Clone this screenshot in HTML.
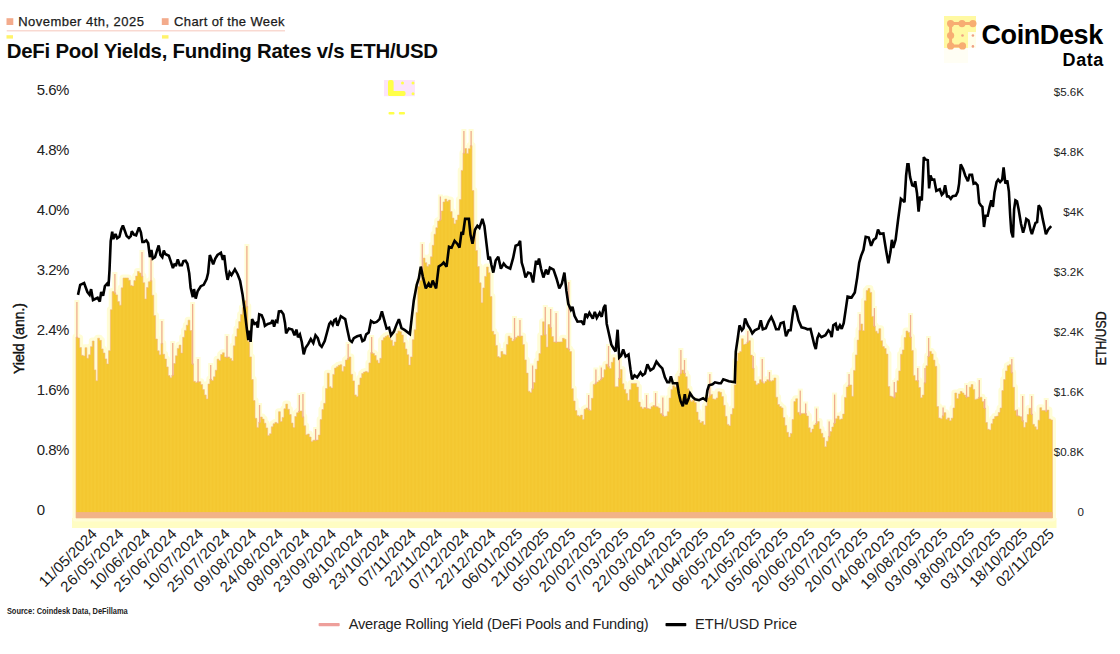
<!DOCTYPE html>
<html><head><meta charset="utf-8"><title>DeFi Pool Yields, Funding Rates v/s ETH/USD</title>
<style>
html,body{margin:0;padding:0;background:#fff;}
body{width:1120px;height:654px;overflow:hidden;font-family:"Liberation Sans",sans-serif;}
svg{display:block;font-family:"Liberation Sans",sans-serif;}
</style></head><body>
<svg width="1120" height="654" viewBox="0 0 1120 654">
<rect width="1120" height="654" fill="#ffffff"/>

<rect x="6.5" y="18.2" width="6.8" height="6.8" fill="#F3AB8C"/>
<rect x="6.5" y="35.2" width="6.5" height="3.4" fill="#FFF36B"/>
<rect x="162" y="35.2" width="6.5" height="3.4" fill="#FFF36B"/>
<text x="18.2" y="26.4" font-size="13" font-weight="normal" text-anchor="start" fill="#1a1a1a" textLength="125.7" lengthAdjust="spacing" stroke="#1a1a1a" stroke-width="0.25">November 4th, 2025</text>
<rect x="6.7" y="30.4" width="278.3" height="0.9" fill="#F6C0B4"/>
<rect x="161.8" y="18.2" width="6.8" height="6.8" fill="#F3AB8C"/>
<text x="174.1" y="26.4" font-size="13" font-weight="normal" text-anchor="start" fill="#1a1a1a" textLength="110.4" lengthAdjust="spacing" stroke="#1a1a1a" stroke-width="0.25">Chart of the Week</text>
<text x="6.7" y="58.2" font-size="20.4" font-weight="bold" text-anchor="start" fill="#0a0a0a" textLength="431.3" lengthAdjust="spacing">DeFi Pool Yields, Funding Rates v/s ETH/USD</text>
<g>
<rect x="944" y="16" width="32" height="16" fill="#FFF9A2"/>
<rect x="944" y="32" width="24" height="16" fill="#FFF9A2"/>
<rect x="968" y="32" width="8" height="16" fill="#FFFEEA"/>
<rect x="944" y="48" width="24" height="15" fill="#FFFEF4"/>
<path d="M972.9,23.6 L950.6,23.6 L950.6,45.9 L962.5,45.9" fill="none" stroke="#F7AD72" stroke-width="3" stroke-linecap="round" stroke-linejoin="round"/>
<circle cx="950.6" cy="23.6" r="3.6" fill="#F7AD72"/>
<circle cx="962" cy="23.6" r="3.6" fill="#F7AD72"/>
<circle cx="972.9" cy="23.6" r="3.6" fill="#F7AD72"/>
<circle cx="950.6" cy="35.5" r="3.6" fill="#F7AD72"/>
<circle cx="950.6" cy="45.9" r="3.6" fill="#F7AD72"/>
<circle cx="962.5" cy="45.9" r="3.6" fill="#F7AD72"/>
<circle cx="962.5" cy="35.5" r="1.3" fill="#F0A184"/>
<circle cx="972.9" cy="35.5" r="1.3" fill="#F0A184"/>
<circle cx="972.9" cy="46.4" r="1.3" fill="#F0A184"/>
</g>
<text x="981.4" y="44.4" font-size="27" font-weight="bold" text-anchor="start" fill="#000" textLength="121.9" lengthAdjust="spacing">CoinDesk</text>
<text x="1062.6" y="66.1" font-size="18" font-weight="bold" text-anchor="start" fill="#000" textLength="40.7" lengthAdjust="spacing">Data</text>
<rect x="384" y="80" width="31" height="16.2" fill="#FBE4FB"/>
<rect x="388" y="80" width="5.6" height="16" rx="2" fill="#FFFF4A"/>
<rect x="388" y="91" width="17.6" height="5" rx="2" fill="#FFFF4A"/>
<circle cx="402.5" cy="83" r="1.5" fill="#FFFF4A"/>
<circle cx="413" cy="83" r="1.5" fill="#FFFF4A"/>
<circle cx="413" cy="93.8" r="1.5" fill="#FFFF4A"/>
<rect x="388.5" y="112" width="6" height="2.4" rx="1" fill="#FFFF4A"/>
<rect x="398.8" y="112" width="6.2" height="2.4" rx="1" fill="#FFFF4A"/>
<rect x="72.0" y="518.0" width="984.5" height="10" fill="#FFFDC3"/>
<defs><path id="bars" d="M76.00,518.0L76.00,337.0L77.81,337.0L77.81,338.1L79.62,338.1L79.62,347.6L81.42,347.6L81.42,355.3L83.23,355.3L83.23,356.0L85.04,356.0L85.04,347.7L86.85,347.7L86.85,358.3L88.66,358.3L88.66,354.8L90.47,354.8L90.47,346.7L92.28,346.7L92.28,341.0L94.08,341.0L94.08,369.9L95.89,369.9L95.89,380.8L97.70,380.8L97.70,338.2L99.51,338.2L99.51,340.3L101.32,340.3L101.32,348.9L103.12,348.9L103.12,353.0L104.93,353.0L104.93,358.9L106.74,358.9L106.74,363.9L108.55,363.9L108.55,350.7L110.36,350.7L110.36,309.7L112.17,309.7L112.17,291.6L113.97,291.6L113.97,292.7L115.78,292.7L115.78,294.9L117.59,294.9L117.59,301.6L119.40,301.6L119.40,305.2L121.21,305.2L121.21,287.8L123.02,287.8L123.02,278.0L124.83,278.0L124.83,278.0L126.63,278.0L126.63,278.0L128.44,278.0L128.44,280.2L130.25,280.2L130.25,285.4L132.06,285.4L132.06,286.1L133.87,286.1L133.87,280.6L135.68,280.6L135.68,276.1L137.48,276.1L137.48,271.5L139.29,271.5L139.29,273.0L141.10,273.0L141.10,276.0L142.91,276.0L142.91,282.7L144.72,282.7L144.72,299.0L146.53,299.0L146.53,287.5L148.33,287.5L148.33,281.8L150.14,281.8L150.14,280.4L151.95,280.4L151.95,295.2L153.76,295.2L153.76,315.6L155.57,315.6L155.57,339.0L157.38,339.0L157.38,350.8L159.18,350.8L159.18,354.8L160.99,354.8L160.99,343.3L162.80,343.3L162.80,354.3L164.61,354.3L164.61,359.0L166.42,359.0L166.42,366.9L168.23,366.9L168.22,375.6L170.03,375.6L170.03,377.7L171.84,377.7L171.84,375.1L173.65,375.1L173.65,363.5L175.46,363.5L175.46,355.8L177.27,355.8L177.27,348.4L179.07,348.4L179.07,345.1L180.88,345.1L180.88,353.1L182.69,353.1L182.69,337.2L184.50,337.2L184.50,330.4L186.31,330.4L186.31,325.2L188.12,325.2L188.12,320.2L189.93,320.2L189.93,330.6L191.73,330.6L191.73,363.8L193.54,363.8L193.54,381.3L195.35,381.3L195.35,382.4L197.16,382.4L197.16,381.6L198.97,381.6L198.97,381.7L200.78,381.7L200.78,384.5L202.58,384.5L202.58,389.6L204.39,389.6L204.39,394.9L206.20,394.9L206.20,398.9L208.01,398.9L208.01,384.0L209.82,384.0L209.82,379.1L211.62,379.1L211.62,380.6L213.43,380.6L213.43,376.8L215.24,376.8L215.24,370.2L217.05,370.2L217.05,359.2L218.86,359.2L218.86,360.5L220.67,360.5L220.67,354.5L222.47,354.5L222.47,352.8L224.28,352.8L224.28,357.0L226.09,357.0L226.09,357.0L227.90,357.0L227.90,357.0L229.71,357.0L229.71,358.4L231.52,358.4L231.52,360.8L233.33,360.8L233.32,345.8L235.13,345.8L235.13,336.6L236.94,336.6L236.94,328.7L238.75,328.7L238.75,321.6L240.56,321.6L240.56,314.5L242.37,314.5L242.37,307.5L244.18,307.5L244.18,300.8L245.98,300.8L245.98,306.3L247.79,306.3L247.79,341.4L249.60,341.4L249.60,356.9L251.41,356.9L251.41,379.5L253.22,379.5L253.22,400.6L255.03,400.6L255.03,418.3L256.83,418.3L256.83,427.4L258.64,427.4L258.64,422.2L260.45,422.2L260.45,417.0L262.26,417.0L262.26,419.1L264.07,419.1L264.07,423.2L265.88,423.2L265.88,427.9L267.68,427.9L267.68,435.4L269.49,435.4L269.49,433.7L271.30,433.7L271.30,426.8L273.11,426.8L273.11,423.8L274.92,423.8L274.92,422.4L276.72,422.4L276.73,423.3L278.53,423.3L278.53,411.7L280.34,411.7L280.34,421.5L282.15,421.5L282.15,417.4L283.96,417.4L283.96,408.8L285.77,408.8L285.77,404.1L287.57,404.1L287.57,409.2L289.38,409.2L289.38,414.5L291.19,414.5L291.19,423.0L293.00,423.0L293.00,427.5L294.81,427.5L294.81,416.5L296.62,416.5L296.62,412.8L298.43,412.8L298.43,411.0L300.23,411.0L300.23,411.0L302.04,411.0L302.04,416.7L303.85,416.7L303.85,425.8L305.66,425.8L305.66,434.8L307.47,434.8L307.47,434.0L309.28,434.0L309.27,437.0L311.08,437.0L311.08,441.6L312.89,441.6L312.89,440.2L314.70,440.2L314.70,440.0L316.51,440.0L316.51,440.0L318.32,440.0L318.32,435.1L320.12,435.1L320.12,419.6L321.93,419.6L321.93,409.6L323.74,409.6L323.74,403.3L325.55,403.3L325.55,388.5L327.36,388.5L327.36,373.2L329.17,373.2L329.17,386.7L330.97,386.7L330.98,387.9L332.78,387.9L332.78,374.4L334.59,374.4L334.59,368.1L336.40,368.1L336.40,366.8L338.21,366.8L338.21,365.3L340.02,365.3L340.02,364.8L341.82,364.8L341.82,371.2L343.63,371.2L343.63,366.5L345.44,366.5L345.44,360.1L347.25,360.1L347.25,358.6L349.06,358.6L349.06,357.0L350.87,357.0L350.87,374.3L352.68,374.3L352.68,380.9L354.48,380.9L354.48,394.9L356.29,394.9L356.29,396.4L358.10,396.4L358.10,385.0L359.91,385.0L359.91,377.9L361.72,377.9L361.72,373.4L363.53,373.4L363.52,372.1L365.33,372.1L365.33,371.4L367.14,371.4L367.14,372.2L368.95,372.2L368.95,362.9L370.76,362.9L370.76,352.6L372.57,352.6L372.57,353.4L374.38,353.4L374.38,355.5L376.18,355.5L376.18,360.2L377.99,360.2L377.99,363.1L379.80,363.1L379.80,358.3L381.61,358.3L381.61,340.3L383.42,340.3L383.42,337.7L385.23,337.7L385.23,336.3L387.03,336.3L387.03,335.3L388.84,335.3L388.84,337.2L390.65,337.2L390.65,340.3L392.46,340.3L392.46,345.8L394.27,345.8L394.27,341.9L396.07,341.9L396.07,333.6L397.88,333.6L397.88,330.9L399.69,330.9L399.69,331.7L401.50,331.7L401.50,334.9L403.31,334.9L403.31,342.6L405.12,342.6L405.12,349.0L406.93,349.0L406.93,354.7L408.73,354.7L408.73,365.1L410.54,365.1L410.54,356.9L412.35,356.9L412.35,339.7L414.16,339.7L414.16,329.8L415.97,329.8L415.97,312.4L417.78,312.4L417.77,286.4L419.58,286.4L419.58,280.4L421.39,280.4L421.39,271.2L423.20,271.2L423.20,258.1L425.01,258.1L425.01,262.7L426.82,262.7L426.82,266.3L428.62,266.3L428.62,264.5L430.43,264.5L430.43,256.8L432.24,256.8L432.24,245.3L434.05,245.3L434.05,234.2L435.86,234.2L435.86,227.7L437.67,227.7L437.67,221.1L439.48,221.1L439.48,219.7L441.28,219.7L441.28,211.0L443.09,211.0L443.09,202.0L444.90,202.0L444.90,199.1L446.71,199.1L446.71,201.3L448.52,201.3L448.52,200.1L450.32,200.1L450.32,211.6L452.13,211.6L452.13,218.1L453.94,218.1L453.94,223.7L455.75,223.7L455.75,220.1L457.56,220.1L457.56,215.0L459.37,215.0L459.37,199.6L461.18,199.6L461.18,170.4L462.98,170.4L462.98,152.9L464.79,152.9L464.79,148.5L466.60,148.5L466.60,153.4L468.41,153.4L468.41,148.7L470.22,148.7L470.22,145.6L472.03,145.6L472.02,190.5L473.83,190.5L473.83,231.8L475.64,231.8L475.64,250.5L477.45,250.5L477.45,266.5L479.26,266.5L479.26,282.8L481.07,282.8L481.07,302.7L482.88,302.7L482.88,287.9L484.68,287.9L484.68,276.4L486.49,276.4L486.49,267.0L488.30,267.0L488.30,272.7L490.11,272.7L490.11,296.5L491.92,296.5L491.92,331.3L493.73,331.3L493.73,334.6L495.53,334.6L495.53,345.4L497.34,345.4L497.34,356.6L499.15,356.6L499.15,357.5L500.96,357.5L500.96,351.5L502.77,351.5L502.77,354.2L504.57,354.2L504.57,354.8L506.38,354.8L506.38,344.6L508.19,344.6L508.19,336.2L510.00,336.2L510.00,338.0L511.81,338.0L511.81,341.1L513.62,341.1L513.62,339.3L515.42,339.3L515.42,337.5L517.23,337.5L517.23,336.0L519.04,336.0L519.04,336.0L520.85,336.0L520.85,336.0L522.66,336.0L522.66,344.6L524.47,344.6L524.47,359.9L526.27,359.9L526.27,373.1L528.08,373.1L528.08,391.2L529.89,391.2L529.89,392.6L531.70,392.6L531.70,388.6L533.51,388.6L533.51,382.5L535.32,382.5L535.32,369.3L537.12,369.3L537.12,361.1L538.93,361.1L538.93,353.6L540.74,353.6L540.74,335.5L542.55,335.5L542.55,321.8L544.36,321.8L544.36,334.4L546.17,334.4L546.17,347.1L547.98,347.1L547.98,324.5L549.78,324.5L549.78,327.4L551.59,327.4L551.59,336.5L553.40,336.5L553.40,342.0L555.21,342.0L555.21,342.0L557.02,342.0L557.02,342.0L558.82,342.0L558.83,342.0L560.63,342.0L560.63,341.9L562.44,341.9L562.44,338.3L564.25,338.3L564.25,339.3L566.06,339.3L566.06,348.0L567.87,348.0L567.87,349.0L569.67,349.0L569.67,351.6L571.48,351.6L571.48,388.7L573.29,388.7L573.29,401.0L575.10,401.0L575.10,410.6L576.91,410.6L576.91,415.4L578.72,415.4L578.72,416.2L580.52,416.2L580.52,415.1L582.33,415.1L582.33,419.6L584.14,419.6L584.14,409.3L585.95,409.3L585.95,408.0L587.76,408.0L587.76,409.2L589.57,409.2L589.57,410.4L591.38,410.4L591.38,398.3L593.18,398.3L593.18,384.4L594.99,384.4L594.99,383.2L596.80,383.2L596.80,381.9L598.61,381.9L598.61,380.5L600.42,380.5L600.42,379.1L602.22,379.1L602.23,377.6L604.03,377.6L604.03,369.7L605.84,369.7L605.84,364.2L607.65,364.2L607.65,366.4L609.46,366.4L609.46,368.5L611.27,368.5L611.27,362.3L613.07,362.3L613.08,357.7L614.88,357.7L614.88,386.8L616.69,386.8L616.69,386.7L618.50,386.7L618.50,378.1L620.31,378.1L620.31,369.6L622.12,369.6L622.12,383.7L623.92,383.7L623.92,389.4L625.73,389.4L625.73,393.4L627.54,393.4L627.54,400.3L629.35,400.3L629.35,389.7L631.16,389.7L631.16,383.4L632.97,383.4L632.97,383.4L634.77,383.4L634.77,383.4L636.58,383.4L636.58,387.1L638.39,387.1L638.39,402.1L640.20,402.1L640.20,406.9L642.01,406.9L642.01,408.7L643.82,408.7L643.82,407.5L645.62,407.5L645.62,407.9L647.43,407.9L647.43,408.6L649.24,408.6L649.24,409.1L651.05,409.1L651.05,406.7L652.86,406.7L652.86,405.6L654.67,405.6L654.67,406.2L656.47,406.2L656.48,406.8L658.28,406.8L658.28,408.1L660.09,408.1L660.09,413.4L661.90,413.4L661.90,415.0L663.71,415.0L663.71,416.5L665.52,416.5L665.52,416.0L667.32,416.0L667.33,411.7L669.13,411.7L669.13,398.1L670.94,398.1L670.94,389.4L672.75,389.4L672.75,385.7L674.56,385.7L674.56,387.2L676.37,387.2L676.37,381.9L678.17,381.9L678.17,376.3L679.98,376.3L679.98,373.2L681.79,373.2L681.79,370.1L683.60,370.1L683.60,373.0L685.41,373.0L685.41,376.7L687.22,376.7L687.22,388.8L689.02,388.8L689.02,399.9L690.83,399.9L690.83,401.4L692.64,401.4L692.64,400.3L694.45,400.3L694.45,402.5L696.26,402.5L696.26,412.1L698.07,412.1L698.07,419.9L699.88,419.9L699.88,422.7L701.68,422.7L701.68,421.5L703.49,421.5L703.49,424.8L705.30,424.8L705.30,405.9L707.11,405.9L707.11,397.8L708.92,397.8L708.92,395.5L710.72,395.5L710.73,394.4L712.53,394.4L712.53,398.9L714.34,398.9L714.34,399.5L716.15,399.5L716.15,398.0L717.96,398.0L717.96,391.7L719.77,391.7L719.77,392.3L721.57,392.3L721.58,396.6L723.38,396.6L723.38,405.3L725.19,405.3L725.19,416.3L727.00,416.3L727.00,424.4L728.81,424.4L728.81,425.7L730.62,425.7L730.62,414.3L732.42,414.3L732.42,408.4L734.23,408.4L734.23,384.9L736.04,384.9L736.04,360.9L737.85,360.9L737.85,353.0L739.66,353.0L739.66,351.4L741.47,351.4L741.47,338.8L743.27,338.8L743.27,344.5L745.08,344.5L745.08,344.0L746.89,344.0L746.89,341.9L748.70,341.9L748.70,340.7L750.51,340.7L750.51,355.1L752.32,355.1L752.32,368.1L754.12,368.1L754.12,381.0L755.93,381.0L755.93,384.8L757.74,384.8L757.74,383.6L759.55,383.6L759.55,379.7L761.36,379.7L761.36,381.5L763.17,381.5L763.17,383.3L764.97,383.3L764.98,381.6L766.78,381.6L766.78,379.7L768.59,379.7L768.59,380.5L770.40,380.5L770.40,381.2L772.21,381.2L772.21,380.4L774.02,380.4L774.02,378.0L775.82,378.0L775.83,397.2L777.63,397.2L777.63,404.5L779.44,404.5L779.44,406.6L781.25,406.6L781.25,407.9L783.06,407.9L783.06,417.6L784.87,417.6L784.87,425.4L786.67,425.4L786.67,432.3L788.48,432.3L788.48,437.1L790.29,437.1L790.29,433.4L792.10,433.4L792.10,419.4L793.91,419.4L793.91,401.5L795.72,401.5L795.72,398.8L797.52,398.8L797.52,412.3L799.33,412.3L799.33,414.5L801.14,414.5L801.14,413.4L802.95,413.4L802.95,413.4L804.76,413.4L804.76,413.4L806.57,413.4L806.57,416.0L808.38,416.0L808.38,427.8L810.18,427.8L810.18,432.3L811.99,432.3L811.99,429.1L813.80,429.1L813.80,424.9L815.61,424.9L815.61,423.3L817.42,423.3L817.42,421.6L819.22,421.6L819.23,429.0L821.03,429.0L821.03,433.3L822.84,433.3L822.84,437.6L824.65,437.6L824.65,446.7L826.46,446.7L826.46,441.2L828.27,441.2L828.27,436.3L830.07,436.3L830.08,431.6L831.88,431.6L831.88,427.0L833.69,427.0L833.69,422.9L835.50,422.9L835.50,418.8L837.31,418.8L837.31,416.0L839.12,416.0L839.12,419.6L840.92,419.6L840.92,418.9L842.73,418.9L842.73,414.1L844.54,414.1L844.54,397.4L846.35,397.4L846.35,387.0L848.16,387.0L848.16,385.0L849.97,385.0L849.97,385.0L851.77,385.0L851.77,396.3L853.58,396.3L853.58,370.4L855.39,370.4L855.39,354.9L857.20,354.9L857.20,340.1L859.01,340.1L859.01,330.1L860.82,330.1L860.82,324.0L862.62,324.0L862.62,330.7L864.43,330.7L864.43,300.8L866.24,300.8L866.24,290.6L868.05,290.6L868.05,288.6L869.86,288.6L869.86,292.4L871.67,292.4L871.67,316.4L873.47,316.4L873.48,325.9L875.28,325.9L875.28,331.2L877.09,331.2L877.09,333.3L878.90,333.3L878.90,328.7L880.71,328.7L880.71,340.7L882.52,340.7L882.52,346.6L884.32,346.6L884.33,348.5L886.13,348.5L886.13,354.1L887.94,354.1L887.94,386.5L889.75,386.5L889.75,396.1L891.56,396.1L891.56,396.8L893.37,396.8L893.37,397.4L895.17,397.4L895.17,392.5L896.98,392.5L896.98,380.8L898.79,380.8L898.79,370.9L900.60,370.9L900.60,354.2L902.41,354.2L902.41,349.9L904.22,349.9L904.22,337.6L906.02,337.6L906.02,331.0L907.83,331.0L907.83,332.4L909.64,332.4L909.64,336.9L911.45,336.9L911.45,350.4L913.26,350.4L913.26,375.4L915.07,375.4L915.07,380.6L916.88,380.6L916.88,380.6L918.68,380.6L918.68,387.5L920.49,387.5L920.49,397.7L922.30,397.7L922.30,395.1L924.11,395.1L924.11,382.6L925.92,382.6L925.92,365.8L927.72,365.8L927.73,356.0L929.53,356.0L929.53,351.4L931.34,351.4L931.34,353.9L933.15,353.9L933.15,360.1L934.96,360.1L934.96,366.3L936.77,366.3L936.77,406.5L938.57,406.5L938.58,417.9L940.38,417.9L940.38,418.8L942.19,418.8L942.19,415.7L944.00,415.7L944.00,412.7L945.81,412.7L945.81,419.3L947.62,419.3L947.62,417.9L949.42,417.9L949.42,420.7L951.23,420.7L951.23,418.2L953.04,418.2L953.04,408.0L954.85,408.0L954.85,393.0L956.66,393.0L956.66,398.6L958.47,398.6L958.47,393.9L960.27,393.9L960.27,391.5L962.08,391.5L962.08,393.0L963.89,393.0L963.89,395.0L965.70,395.0L965.70,397.1L967.51,397.1L967.51,396.9L969.32,396.9L969.32,387.2L971.12,387.2L971.12,384.6L972.93,384.6L972.93,389.4L974.74,389.4L974.74,399.4L976.55,399.4L976.55,398.9L978.36,398.9L978.36,397.4L980.17,397.4L980.17,397.2L981.97,397.2L981.98,401.4L983.78,401.4L983.78,408.0L985.59,408.0L985.59,422.5L987.40,422.5L987.40,429.3L989.21,429.3L989.21,430.0L991.02,430.0L991.02,423.7L992.82,423.7L992.83,419.0L994.63,419.0L994.63,416.6L996.44,416.6L996.44,416.1L998.25,416.1L998.25,412.5L1000.06,412.5L1000.06,408.0L1001.87,408.0L1001.87,390.6L1003.67,390.6L1003.67,379.6L1005.48,379.6L1005.48,370.9L1007.29,370.9L1007.29,365.7L1009.10,365.7L1009.10,364.8L1010.91,364.8L1010.91,372.4L1012.72,372.4L1012.72,387.3L1014.52,387.3L1014.52,410.4L1016.33,410.4L1016.33,415.3L1018.14,415.3L1018.14,416.0L1019.95,416.0L1019.95,416.8L1021.76,416.8L1021.76,420.6L1023.57,420.6L1023.57,427.3L1025.38,427.3L1025.38,422.6L1027.18,422.6L1027.18,414.5L1028.99,414.5L1028.99,408.3L1030.80,408.3L1030.80,414.0L1032.61,414.0L1032.61,424.3L1034.42,424.3L1034.42,426.8L1036.22,426.8L1036.22,429.5L1038.03,429.5L1038.03,420.2L1039.84,420.2L1039.84,407.7L1041.65,407.7L1041.65,410.5L1043.46,410.5L1043.46,410.4L1045.27,410.4L1045.27,411.2L1047.08,411.2L1047.08,410.1L1048.88,410.1L1048.88,419.0L1050.69,419.0L1050.69,420.0L1052.50,420.0L1052.50,518.0Z"/></defs>
<use href="#bars" fill="none" stroke="#FFFDD6" stroke-width="7" stroke-linejoin="round"/>
<rect x="74.40" y="300.0" width="5" height="37.0" fill="#FFFDD6"/>
<rect x="112.38" y="272.0" width="5" height="20.7" fill="#FFFDD6"/>
<rect x="139.50" y="250.0" width="5" height="26.0" fill="#FFFDD6"/>
<rect x="148.55" y="256.0" width="5" height="24.4" fill="#FFFDD6"/>
<rect x="159.40" y="319.0" width="5" height="24.3" fill="#FFFDD6"/>
<rect x="170.25" y="341.0" width="5" height="34.1" fill="#FFFDD6"/>
<rect x="190.14" y="302.0" width="5" height="61.8" fill="#FFFDD6"/>
<rect x="195.56" y="357.0" width="5" height="24.6" fill="#FFFDD6"/>
<rect x="208.22" y="363.0" width="5" height="16.1" fill="#FFFDD6"/>
<rect x="224.50" y="334.0" width="5" height="23.0" fill="#FFFDD6"/>
<rect x="244.39" y="244.0" width="5" height="62.3" fill="#FFFDD6"/>
<rect x="257.05" y="403.0" width="5" height="19.2" fill="#FFFDD6"/>
<rect x="296.83" y="393.0" width="5" height="18.0" fill="#FFFDD6"/>
<rect x="300.45" y="392.0" width="5" height="24.7" fill="#FFFDD6"/>
<rect x="313.10" y="427.0" width="5" height="13.0" fill="#FFFDD6"/>
<rect x="345.65" y="342.0" width="5" height="16.6" fill="#FFFDD6"/>
<rect x="369.16" y="335.0" width="5" height="17.6" fill="#FFFDD6"/>
<rect x="419.80" y="242.0" width="5" height="29.2" fill="#FFFDD6"/>
<rect x="437.88" y="194.5" width="5" height="25.2" fill="#FFFDD6"/>
<rect x="461.39" y="129.0" width="5" height="23.9" fill="#FFFDD6"/>
<rect x="468.62" y="129.0" width="5" height="16.6" fill="#FFFDD6"/>
<rect x="512.02" y="316.0" width="5" height="23.3" fill="#FFFDD6"/>
<rect x="517.45" y="318.0" width="5" height="18.0" fill="#FFFDD6"/>
<rect x="530.10" y="363.5" width="5" height="25.1" fill="#FFFDD6"/>
<rect x="542.76" y="305.0" width="5" height="29.4" fill="#FFFDD6"/>
<rect x="548.19" y="307.0" width="5" height="20.4" fill="#FFFDD6"/>
<rect x="553.61" y="311.0" width="5" height="31.0" fill="#FFFDD6"/>
<rect x="566.27" y="280.0" width="5" height="69.0" fill="#FFFDD6"/>
<rect x="586.16" y="393.0" width="5" height="16.2" fill="#FFFDD6"/>
<rect x="593.40" y="367.5" width="5" height="15.7" fill="#FFFDD6"/>
<rect x="598.82" y="365.5" width="5" height="13.6" fill="#FFFDD6"/>
<rect x="606.05" y="344.0" width="5" height="22.4" fill="#FFFDD6"/>
<rect x="616.90" y="356.0" width="5" height="22.1" fill="#FFFDD6"/>
<rect x="644.03" y="393.0" width="5" height="14.9" fill="#FFFDD6"/>
<rect x="653.07" y="391.0" width="5" height="15.2" fill="#FFFDD6"/>
<rect x="660.30" y="395.5" width="5" height="19.5" fill="#FFFDD6"/>
<rect x="678.39" y="348.0" width="5" height="25.2" fill="#FFFDD6"/>
<rect x="682.00" y="358.0" width="5" height="15.0" fill="#FFFDD6"/>
<rect x="707.32" y="372.0" width="5" height="23.5" fill="#FFFDD6"/>
<rect x="745.30" y="329.0" width="5" height="12.9" fill="#FFFDD6"/>
<rect x="750.72" y="354.0" width="5" height="14.1" fill="#FFFDD6"/>
<rect x="759.76" y="357.0" width="5" height="24.5" fill="#FFFDD6"/>
<rect x="767.00" y="370.0" width="5" height="10.5" fill="#FFFDD6"/>
<rect x="797.74" y="388.6" width="5" height="25.9" fill="#FFFDD6"/>
<rect x="803.16" y="401.5" width="5" height="11.9" fill="#FFFDD6"/>
<rect x="814.01" y="406.5" width="5" height="16.8" fill="#FFFDD6"/>
<rect x="826.67" y="419.4" width="5" height="16.9" fill="#FFFDD6"/>
<rect x="832.10" y="392.6" width="5" height="30.3" fill="#FFFDD6"/>
<rect x="846.56" y="372.0" width="5" height="13.0" fill="#FFFDD6"/>
<rect x="857.41" y="312.0" width="5" height="18.1" fill="#FFFDD6"/>
<rect x="871.88" y="306.0" width="5" height="19.9" fill="#FFFDD6"/>
<rect x="891.77" y="380.0" width="5" height="17.4" fill="#FFFDD6"/>
<rect x="908.05" y="313.0" width="5" height="23.9" fill="#FFFDD6"/>
<rect x="915.28" y="366.0" width="5" height="14.6" fill="#FFFDD6"/>
<rect x="922.51" y="366.0" width="5" height="16.6" fill="#FFFDD6"/>
<rect x="926.13" y="336.0" width="5" height="20.0" fill="#FFFDD6"/>
<rect x="940.60" y="405.5" width="5" height="10.2" fill="#FFFDD6"/>
<rect x="964.10" y="383.0" width="5" height="14.1" fill="#FFFDD6"/>
<rect x="976.76" y="378.0" width="5" height="19.4" fill="#FFFDD6"/>
<rect x="982.19" y="397.0" width="5" height="11.0" fill="#FFFDD6"/>
<rect x="1009.31" y="357.0" width="5" height="15.4" fill="#FFFDD6"/>
<rect x="1014.74" y="407.4" width="5" height="7.9" fill="#FFFDD6"/>
<rect x="1020.16" y="394.0" width="5" height="26.6" fill="#FFFDD6"/>
<rect x="1029.20" y="394.0" width="5" height="20.0" fill="#FFFDD6"/>
<rect x="1043.67" y="398.0" width="5" height="13.2" fill="#FFFDD6"/>
<use href="#bars" fill="#F4C730" stroke="#F2B387" stroke-width="0.6" stroke-linejoin="miter"/>
<defs><pattern id="st" x="76.0" y="0" width="3.6167" height="10" patternUnits="userSpaceOnUse"><rect x="0" y="0" width="1.8083" height="10" fill="#FFE45A" fill-opacity="0.10"/></pattern></defs>
<use href="#bars" fill="url(#st)" stroke="none"/>
<rect x="76.25" y="302.0" width="1.3" height="36.0" fill="#F0AD8E"/>
<rect x="114.23" y="274.0" width="1.3" height="19.7" fill="#F0AD8E"/>
<rect x="141.35" y="252.0" width="1.3" height="25.0" fill="#F0AD8E"/>
<rect x="150.40" y="258.0" width="1.3" height="23.4" fill="#F0AD8E"/>
<rect x="161.25" y="321.0" width="1.3" height="23.3" fill="#F0AD8E"/>
<rect x="172.10" y="343.0" width="1.3" height="33.1" fill="#F0AD8E"/>
<rect x="191.99" y="304.0" width="1.3" height="60.8" fill="#F0AD8E"/>
<rect x="197.41" y="359.0" width="1.3" height="23.6" fill="#F0AD8E"/>
<rect x="210.07" y="365.0" width="1.3" height="15.1" fill="#F0AD8E"/>
<rect x="226.35" y="336.0" width="1.3" height="22.0" fill="#F0AD8E"/>
<rect x="246.24" y="246.0" width="1.3" height="61.3" fill="#F0AD8E"/>
<rect x="258.90" y="405.0" width="1.3" height="18.2" fill="#F0AD8E"/>
<rect x="298.68" y="395.0" width="1.3" height="17.0" fill="#F0AD8E"/>
<rect x="302.30" y="394.0" width="1.3" height="23.7" fill="#F0AD8E"/>
<rect x="314.95" y="429.0" width="1.3" height="12.0" fill="#F0AD8E"/>
<rect x="347.50" y="344.0" width="1.3" height="15.6" fill="#F0AD8E"/>
<rect x="371.01" y="337.0" width="1.3" height="16.6" fill="#F0AD8E"/>
<rect x="421.65" y="244.0" width="1.3" height="28.2" fill="#F0AD8E"/>
<rect x="439.73" y="196.5" width="1.3" height="24.2" fill="#F0AD8E"/>
<rect x="463.24" y="131.0" width="1.3" height="22.9" fill="#F0AD8E"/>
<rect x="470.47" y="131.0" width="1.3" height="15.6" fill="#F0AD8E"/>
<rect x="513.87" y="318.0" width="1.3" height="22.3" fill="#F0AD8E"/>
<rect x="519.30" y="320.0" width="1.3" height="17.0" fill="#F0AD8E"/>
<rect x="531.95" y="365.5" width="1.3" height="24.1" fill="#F0AD8E"/>
<rect x="544.61" y="307.0" width="1.3" height="28.4" fill="#F0AD8E"/>
<rect x="550.04" y="309.0" width="1.3" height="19.4" fill="#F0AD8E"/>
<rect x="555.46" y="313.0" width="1.3" height="30.0" fill="#F0AD8E"/>
<rect x="568.12" y="282.0" width="1.3" height="68.0" fill="#F0AD8E"/>
<rect x="588.01" y="395.0" width="1.3" height="15.2" fill="#F0AD8E"/>
<rect x="595.25" y="369.5" width="1.3" height="14.7" fill="#F0AD8E"/>
<rect x="600.67" y="367.5" width="1.3" height="12.6" fill="#F0AD8E"/>
<rect x="607.90" y="346.0" width="1.3" height="21.4" fill="#F0AD8E"/>
<rect x="618.75" y="358.0" width="1.3" height="21.1" fill="#F0AD8E"/>
<rect x="645.88" y="395.0" width="1.3" height="13.9" fill="#F0AD8E"/>
<rect x="654.92" y="393.0" width="1.3" height="14.2" fill="#F0AD8E"/>
<rect x="662.15" y="397.5" width="1.3" height="18.5" fill="#F0AD8E"/>
<rect x="680.24" y="350.0" width="1.3" height="24.2" fill="#F0AD8E"/>
<rect x="683.85" y="360.0" width="1.3" height="14.0" fill="#F0AD8E"/>
<rect x="709.17" y="374.0" width="1.3" height="22.5" fill="#F0AD8E"/>
<rect x="747.15" y="331.0" width="1.3" height="11.9" fill="#F0AD8E"/>
<rect x="752.57" y="356.0" width="1.3" height="13.1" fill="#F0AD8E"/>
<rect x="761.61" y="359.0" width="1.3" height="23.5" fill="#F0AD8E"/>
<rect x="768.85" y="372.0" width="1.3" height="9.5" fill="#F0AD8E"/>
<rect x="799.59" y="390.6" width="1.3" height="24.9" fill="#F0AD8E"/>
<rect x="805.01" y="403.5" width="1.3" height="10.9" fill="#F0AD8E"/>
<rect x="815.86" y="408.5" width="1.3" height="15.8" fill="#F0AD8E"/>
<rect x="828.52" y="421.4" width="1.3" height="15.9" fill="#F0AD8E"/>
<rect x="833.95" y="394.6" width="1.3" height="29.3" fill="#F0AD8E"/>
<rect x="848.41" y="374.0" width="1.3" height="12.0" fill="#F0AD8E"/>
<rect x="859.26" y="314.0" width="1.3" height="17.1" fill="#F0AD8E"/>
<rect x="873.73" y="308.0" width="1.3" height="18.9" fill="#F0AD8E"/>
<rect x="893.62" y="382.0" width="1.3" height="16.4" fill="#F0AD8E"/>
<rect x="909.90" y="315.0" width="1.3" height="22.9" fill="#F0AD8E"/>
<rect x="917.13" y="368.0" width="1.3" height="13.6" fill="#F0AD8E"/>
<rect x="924.36" y="368.0" width="1.3" height="15.6" fill="#F0AD8E"/>
<rect x="927.98" y="338.0" width="1.3" height="19.0" fill="#F0AD8E"/>
<rect x="942.45" y="407.5" width="1.3" height="9.2" fill="#F0AD8E"/>
<rect x="965.95" y="385.0" width="1.3" height="13.1" fill="#F0AD8E"/>
<rect x="978.61" y="380.0" width="1.3" height="18.4" fill="#F0AD8E"/>
<rect x="984.04" y="399.0" width="1.3" height="10.0" fill="#F0AD8E"/>
<rect x="1011.16" y="359.0" width="1.3" height="14.4" fill="#F0AD8E"/>
<rect x="1016.59" y="409.4" width="1.3" height="6.9" fill="#F0AD8E"/>
<rect x="1022.01" y="396.0" width="1.3" height="25.6" fill="#F0AD8E"/>
<rect x="1031.05" y="396.0" width="1.3" height="19.0" fill="#F0AD8E"/>
<rect x="1045.52" y="400.0" width="1.3" height="12.2" fill="#F0AD8E"/>
<rect x="76.0" y="512.1" width="976.5" height="5.899999999999977" fill="#F2B387"/>
<path d="M78.0,294.9L80.2,284.8L84.1,283.0L87.4,292.0L89.6,294.9L91.1,289.1L93.0,300.0L97.6,297.8L99.8,301.5L101.2,292.0L103.1,295.7L104.9,286.2L107.5,283.3L108.5,286.2L109.5,270.2L110.7,241.2L112.2,231.7L113.3,239.0L114.3,236.8L115.5,233.9L117.2,238.3L119.4,236.8L121.2,229.5L122.9,225.5L124.9,231.0L126.7,236.1L128.9,238.0L130.8,236.1L131.8,231.3L134.0,234.6L136.1,235.3L139.0,227.4L140.9,232.4L142.4,241.9L144.1,241.9L146.3,240.4L148.2,243.3L149.9,257.2L151.4,249.9L152.8,258.6L155.0,257.2L157.2,249.9L158.7,245.5L160.4,255.0L162.3,257.2L163.8,250.6L165.2,254.0L168.8,255.7L171.0,262.2L172.9,268.1L174.4,264.4L176.1,265.1L177.8,259.3L179.7,265.1L181.9,265.1L183.4,261.2L185.6,260.8L187.4,263.7L189.2,273.1L190.6,287.7L192.8,297.1L194.0,289.1L195.7,298.6L197.6,291.3L200.8,286.2L203.7,284.8L206.6,279.0L208.1,273.1L209.8,255.0L211.7,260.0L213.2,264.4L215.3,258.6L217.5,255.0L220.9,252.8L222.9,259.8L224.2,255.1L226.1,271.3L227.6,279.9L229.6,272.3L231.5,275.1L234.9,269.4L237.6,274.2L240.1,280.9L242.5,294.2L244.8,311.4L246.8,328.6L248.3,340.1L249.6,330.5L250.6,342.0L252.1,319.1L254.4,323.9L256.3,322.9L257.8,327.7L259.2,314.3L261.7,315.3L263.6,320.0L264.9,325.8L267.8,323.9L271.2,322.9L272.6,320.0L274.1,326.7L275.8,321.0L277.3,321.9L278.9,311.4L281.2,311.1L283.4,314.3L285.0,322.9L286.1,333.4L288.8,328.6L292.2,329.6L294.5,335.3L296.4,329.6L298.0,337.2L299.9,334.4L301.8,342.0L303.7,354.4L305.6,347.7L308.3,343.9L310.8,339.1L313.3,343.0L315.5,335.3L317.8,338.2L319.8,344.9L321.7,346.8L324.7,341.1L327.0,332.5L329.3,323.9L330.8,321.9L332.7,324.8L334.3,320.0L335.8,319.1L337.5,325.8L340.8,316.2L345.2,319.1L347.1,328.6L349.6,340.1L351.9,342.0L353.8,338.2L357.2,336.3L360.5,335.3L362.4,341.1L364.3,340.1L366.2,334.4L368.7,332.5L371.0,321.0L373.8,322.9L376.7,321.9L379.6,319.1L381.9,311.4L384.0,319.1L386.6,328.6L389.1,327.7L391.0,335.3L393.9,331.5L396.8,323.9L398.9,319.2L401.5,328.2L404.9,330.2L409.9,334.1L411.9,316.3L413.8,300.4L416.8,284.5L418.8,278.5L420.8,266.6L422.8,276.5L425.8,288.4L428.7,283.5L430.7,287.5L432.7,280.5L436.1,288.4L438.7,266.6L441.7,264.6L443.6,262.6L446.6,266.6L449.0,246.7L451.6,247.7L454.6,240.8L457.2,243.7L459.5,247.7L461.5,231.8L462.9,234.8L465.1,218.9L468.9,218.9L470.5,234.8L472.5,243.7L475.0,229.8L477.4,225.9L479.4,227.8L482.4,218.9L484.4,225.9L486.4,242.8L488.4,259.6L489.9,256.7L491.3,264.6L493.3,272.6L495.7,260.6L498.3,256.7L500.9,268.6L503.7,263.6L506.2,266.6L510.2,268.6L513.2,257.7L515.6,245.7L518.2,244.7L520.1,240.8L521.7,262.6L523.5,268.6L525.5,277.5L528.1,272.6L530.7,273.5L533.1,282.5L536.0,260.6L537.4,264.6L539.0,258.6L541.0,268.6L543.4,277.5L546.0,269.6L548.0,274.5L549.9,267.6L553.5,269.6L556.5,278.5L559.3,288.4L561.9,283.5L564.4,272.6L566.4,290.9L568.3,303.8L570.9,309.8L572.5,306.8L574.5,315.8L577.5,321.7L581.5,321.3L583.8,324.7L585.4,313.8L587.4,316.8L589.4,312.8L592.8,318.7L594.8,311.8L596.8,317.8L599.7,312.8L601.7,316.8L603.7,307.8L605.3,304.8L606.7,323.7L608.7,332.7L611.3,344.6L613.6,348.5L615.6,351.5L617.6,329.7L619.2,357.5L621.2,355.5L623.2,349.5L625.6,356.5L628.5,354.5L630.5,369.4L632.1,379.3L634.5,375.4L637.1,377.4L640.5,372.4L642.5,375.4L645.0,373.4L647.4,364.4L650.4,370.4L653.4,368.4L656.4,361.5L659.3,365.4L662.3,368.4L664.9,377.4L667.3,382.3L669.3,382.3L670.9,376.4L672.9,383.3L677.2,383.3L678.8,393.3L680.6,401.2L682.8,406.2L684.8,394.2L686.2,404.2L688.7,398.2L690.1,393.3L692.7,397.2L695.1,399.2L699.1,400.2L703.1,398.2L706.0,400.2L707.4,390.3L709.0,385.3L712.6,384.3L715.0,382.3L718.9,383.3L720.9,383.3L723.3,379.3L728.9,381.3L734.8,382.3L735.8,351.5L737.9,337.2L739.5,325.3L741.9,330.3L743.5,328.3L745.1,318.4L747.9,325.3L749.9,328.3L752.3,333.3L754.8,330.3L758.8,328.3L760.8,320.3L762.8,329.3L765.8,328.3L768.7,321.3L771.3,317.0L773.7,322.3L776.1,329.3L778.7,329.3L780.7,323.3L783.6,322.3L786.0,336.2L788.6,330.3L790.6,330.3L792.6,315.4L794.2,305.4L796.6,311.4L798.5,320.3L801.5,327.3L805.1,328.3L807.5,329.3L810.5,328.9L812.5,337.2L814.4,345.2L815.8,349.1L817.4,338.2L819.0,334.2L821.4,337.2L825.4,335.2L828.4,330.3L830.3,332.3L831.7,337.2L833.3,325.3L835.7,323.7L837.3,330.3L839.9,325.3L841.7,328.9L843.7,323.3L845.6,310.4L847.6,296.5L851.6,297.5L854.8,292.5L857.2,277.6L859.2,262.7L861.1,255.8L863.5,249.8L865.7,236.9L868.7,237.5L871.1,245.8L873.5,239.9L876.0,237.9L878.0,229.5L880.0,233.9L883.4,233.5L886.0,249.8L888.4,263.3L890.5,251.8L891.9,239.8L893.2,247.9L895.6,239.8L898.0,220.5L900.9,198.8L902.9,200.4L904.5,202.1L906.1,175.5L907.4,164.3L908.5,164.3L910.1,177.1L912.2,185.2L914.1,186.0L915.2,181.2L917.0,193.2L918.6,211.7L920.1,196.4L921.8,200.4L922.9,177.1L923.8,157.1L925.4,159.5L927.8,160.3L929.1,188.4L930.5,175.5L932.1,179.6L934.2,179.6L936.3,190.8L939.8,189.2L941.8,194.8L943.4,193.2L945.1,185.2L947.1,196.4L948.7,196.4L950.8,198.8L952.7,196.1L955.9,195.6L957.8,191.6L959.1,183.6L960.7,164.3L963.1,169.1L965.2,175.5L967.9,181.2L969.6,174.7L972.0,174.7L973.6,183.6L975.5,182.8L977.6,185.2L979.2,202.9L980.8,205.3L982.4,206.9L984.0,227.0L985.6,215.7L987.7,215.7L989.6,206.9L991.3,200.4L992.9,206.9L994.5,192.4L996.6,182.0L998.2,179.6L1000.1,182.0L1002.2,179.6L1003.6,167.5L1005.4,183.6L1007.3,180.4L1008.9,191.6L1010.2,215.7L1011.3,231.8L1013.0,237.4L1014.1,209.3L1015.4,200.4L1017.0,201.3L1018.6,209.3L1021.0,223.8L1023.1,232.6L1024.7,227.0L1026.3,218.9L1028.5,220.5L1030.6,230.2L1031.9,234.2L1033.8,227.8L1035.5,222.9L1037.1,222.1L1038.7,205.3L1040.8,208.5L1042.7,218.9L1044.3,226.2L1045.9,234.2L1048.3,229.4L1051.2,226.2" fill="none" stroke="#000" stroke-width="2.6" stroke-linejoin="miter" stroke-miterlimit="2.5" stroke-linecap="butt"/>
<text x="36.7" y="95.0" font-size="15" font-weight="normal" text-anchor="start" fill="#222" textLength="32.6" lengthAdjust="spacing">5.6%</text>
<text x="36.7" y="155.0" font-size="15" font-weight="normal" text-anchor="start" fill="#222" textLength="32.6" lengthAdjust="spacing">4.8%</text>
<text x="36.7" y="215.0" font-size="15" font-weight="normal" text-anchor="start" fill="#222" textLength="32.6" lengthAdjust="spacing">4.0%</text>
<text x="36.7" y="275.0" font-size="15" font-weight="normal" text-anchor="start" fill="#222" textLength="32.6" lengthAdjust="spacing">3.2%</text>
<text x="36.7" y="335.0" font-size="15" font-weight="normal" text-anchor="start" fill="#222" textLength="32.6" lengthAdjust="spacing">2.4%</text>
<text x="36.7" y="395.0" font-size="15" font-weight="normal" text-anchor="start" fill="#222" textLength="32.6" lengthAdjust="spacing">1.6%</text>
<text x="36.7" y="455.0" font-size="15" font-weight="normal" text-anchor="start" fill="#222" textLength="32.6" lengthAdjust="spacing">0.8%</text>
<text x="36.7" y="515.0" font-size="15" font-weight="normal" text-anchor="start" fill="#222">0</text>
<text x="1084" y="95.7" font-size="11.6" font-weight="normal" text-anchor="end" fill="#222">$5.6K</text>
<text x="1084" y="155.7" font-size="11.6" font-weight="normal" text-anchor="end" fill="#222">$4.8K</text>
<text x="1084" y="215.7" font-size="11.6" font-weight="normal" text-anchor="end" fill="#222">$4K</text>
<text x="1084" y="275.7" font-size="11.6" font-weight="normal" text-anchor="end" fill="#222">$3.2K</text>
<text x="1084" y="335.7" font-size="11.6" font-weight="normal" text-anchor="end" fill="#222">$2.4K</text>
<text x="1084" y="395.7" font-size="11.6" font-weight="normal" text-anchor="end" fill="#222">$1.6K</text>
<text x="1084" y="455.7" font-size="11.6" font-weight="normal" text-anchor="end" fill="#222">$0.8K</text>
<text x="1084" y="515.7" font-size="11.6" font-weight="normal" text-anchor="end" fill="#222">0</text>
<text transform="translate(24,338.5) rotate(-90)" text-anchor="middle" font-size="14" fill="#111" stroke="#111" stroke-width="0.45" textLength="71" lengthAdjust="spacing">Yield (ann.)</text>
<text transform="translate(1105.7,338.3) rotate(-90)" text-anchor="middle" font-size="14.2" fill="#111" stroke="#111" stroke-width="0.35" textLength="53.8" lengthAdjust="spacingAndGlyphs">ETH/USD</text>
<text transform="translate(98.0,534.9) rotate(-45)" text-anchor="end" font-size="15" fill="#1a1a1a" textLength="74.8" lengthAdjust="spacing">11/05/2024</text>
<text transform="translate(124.6,534.9) rotate(-45)" text-anchor="end" font-size="15" fill="#1a1a1a" textLength="82.0" lengthAdjust="spacing">26/05/2024</text>
<text transform="translate(151.2,534.9) rotate(-45)" text-anchor="end" font-size="15" fill="#1a1a1a" textLength="78.4" lengthAdjust="spacing">10/06/2024</text>
<text transform="translate(177.7,534.9) rotate(-45)" text-anchor="end" font-size="15" fill="#1a1a1a" textLength="82.0" lengthAdjust="spacing">25/06/2024</text>
<text transform="translate(204.3,534.9) rotate(-45)" text-anchor="end" font-size="15" fill="#1a1a1a" textLength="78.4" lengthAdjust="spacing">10/07/2024</text>
<text transform="translate(230.9,534.9) rotate(-45)" text-anchor="end" font-size="15" fill="#1a1a1a" textLength="82.0" lengthAdjust="spacing">25/07/2024</text>
<text transform="translate(257.5,534.9) rotate(-45)" text-anchor="end" font-size="15" fill="#1a1a1a" textLength="82.0" lengthAdjust="spacing">09/08/2024</text>
<text transform="translate(284.1,534.9) rotate(-45)" text-anchor="end" font-size="15" fill="#1a1a1a" textLength="82.0" lengthAdjust="spacing">24/08/2024</text>
<text transform="translate(310.6,534.9) rotate(-45)" text-anchor="end" font-size="15" fill="#1a1a1a" textLength="82.0" lengthAdjust="spacing">08/09/2024</text>
<text transform="translate(337.2,534.9) rotate(-45)" text-anchor="end" font-size="15" fill="#1a1a1a" textLength="82.0" lengthAdjust="spacing">23/09/2024</text>
<text transform="translate(363.8,534.9) rotate(-45)" text-anchor="end" font-size="15" fill="#1a1a1a" textLength="78.4" lengthAdjust="spacing">08/10/2024</text>
<text transform="translate(390.4,534.9) rotate(-45)" text-anchor="end" font-size="15" fill="#1a1a1a" textLength="78.4" lengthAdjust="spacing">23/10/2024</text>
<text transform="translate(417.0,534.9) rotate(-45)" text-anchor="end" font-size="15" fill="#1a1a1a" textLength="74.8" lengthAdjust="spacing">07/11/2024</text>
<text transform="translate(443.5,534.9) rotate(-45)" text-anchor="end" font-size="15" fill="#1a1a1a" textLength="74.8" lengthAdjust="spacing">22/11/2024</text>
<text transform="translate(470.1,534.9) rotate(-45)" text-anchor="end" font-size="15" fill="#1a1a1a" textLength="78.4" lengthAdjust="spacing">07/12/2024</text>
<text transform="translate(496.7,534.9) rotate(-45)" text-anchor="end" font-size="15" fill="#1a1a1a" textLength="78.4" lengthAdjust="spacing">22/12/2024</text>
<text transform="translate(523.3,534.9) rotate(-45)" text-anchor="end" font-size="15" fill="#1a1a1a" textLength="78.4" lengthAdjust="spacing">06/01/2025</text>
<text transform="translate(549.9,534.9) rotate(-45)" text-anchor="end" font-size="15" fill="#1a1a1a" textLength="74.8" lengthAdjust="spacing">21/01/2025</text>
<text transform="translate(576.4,534.9) rotate(-45)" text-anchor="end" font-size="15" fill="#1a1a1a" textLength="82.0" lengthAdjust="spacing">05/02/2025</text>
<text transform="translate(603.0,534.9) rotate(-45)" text-anchor="end" font-size="15" fill="#1a1a1a" textLength="82.0" lengthAdjust="spacing">20/02/2025</text>
<text transform="translate(629.6,534.9) rotate(-45)" text-anchor="end" font-size="15" fill="#1a1a1a" textLength="82.0" lengthAdjust="spacing">07/03/2025</text>
<text transform="translate(656.2,534.9) rotate(-45)" text-anchor="end" font-size="15" fill="#1a1a1a" textLength="82.0" lengthAdjust="spacing">22/03/2025</text>
<text transform="translate(682.8,534.9) rotate(-45)" text-anchor="end" font-size="15" fill="#1a1a1a" textLength="82.0" lengthAdjust="spacing">06/04/2025</text>
<text transform="translate(709.3,534.9) rotate(-45)" text-anchor="end" font-size="15" fill="#1a1a1a" textLength="78.4" lengthAdjust="spacing">21/04/2025</text>
<text transform="translate(735.9,534.9) rotate(-45)" text-anchor="end" font-size="15" fill="#1a1a1a" textLength="82.0" lengthAdjust="spacing">06/05/2025</text>
<text transform="translate(762.5,534.9) rotate(-45)" text-anchor="end" font-size="15" fill="#1a1a1a" textLength="78.4" lengthAdjust="spacing">21/05/2025</text>
<text transform="translate(789.1,534.9) rotate(-45)" text-anchor="end" font-size="15" fill="#1a1a1a" textLength="82.0" lengthAdjust="spacing">05/06/2025</text>
<text transform="translate(815.7,534.9) rotate(-45)" text-anchor="end" font-size="15" fill="#1a1a1a" textLength="82.0" lengthAdjust="spacing">20/06/2025</text>
<text transform="translate(842.2,534.9) rotate(-45)" text-anchor="end" font-size="15" fill="#1a1a1a" textLength="82.0" lengthAdjust="spacing">05/07/2025</text>
<text transform="translate(868.8,534.9) rotate(-45)" text-anchor="end" font-size="15" fill="#1a1a1a" textLength="82.0" lengthAdjust="spacing">20/07/2025</text>
<text transform="translate(895.4,534.9) rotate(-45)" text-anchor="end" font-size="15" fill="#1a1a1a" textLength="82.0" lengthAdjust="spacing">04/08/2025</text>
<text transform="translate(922.0,534.9) rotate(-45)" text-anchor="end" font-size="15" fill="#1a1a1a" textLength="78.4" lengthAdjust="spacing">19/08/2025</text>
<text transform="translate(948.6,534.9) rotate(-45)" text-anchor="end" font-size="15" fill="#1a1a1a" textLength="82.0" lengthAdjust="spacing">03/09/2025</text>
<text transform="translate(975.1,534.9) rotate(-45)" text-anchor="end" font-size="15" fill="#1a1a1a" textLength="78.4" lengthAdjust="spacing">18/09/2025</text>
<text transform="translate(1001.7,534.9) rotate(-45)" text-anchor="end" font-size="15" fill="#1a1a1a" textLength="78.4" lengthAdjust="spacing">03/10/2025</text>
<text transform="translate(1028.3,534.9) rotate(-45)" text-anchor="end" font-size="15" fill="#1a1a1a" textLength="74.8" lengthAdjust="spacing">18/10/2025</text>
<text transform="translate(1054.9,534.9) rotate(-45)" text-anchor="end" font-size="15" fill="#1a1a1a" textLength="74.8" lengthAdjust="spacing">02/11/2025</text>
<text x="6.9" y="613.5" font-size="8.3" font-weight="bold" text-anchor="start" fill="#222" textLength="120.8" lengthAdjust="spacingAndGlyphs">Source: Coindesk Data, DeFillama</text>
<rect x="318.6" y="623.0" width="21.1" height="3.2" rx="0.8" fill="#EE9F9B"/>
<text x="348.7" y="628.8" font-size="14.6" font-weight="normal" text-anchor="start" fill="#222" textLength="300" lengthAdjust="spacing">Average Rolling Yield (DeFi Pools and Funding)</text>
<rect x="665.5" y="623.0" width="20.8" height="3.2" rx="0.8" fill="#000"/>
<text x="695" y="628.8" font-size="14.6" font-weight="normal" text-anchor="start" fill="#222" textLength="102" lengthAdjust="spacing">ETH/USD Price</text>
</svg></body></html>
